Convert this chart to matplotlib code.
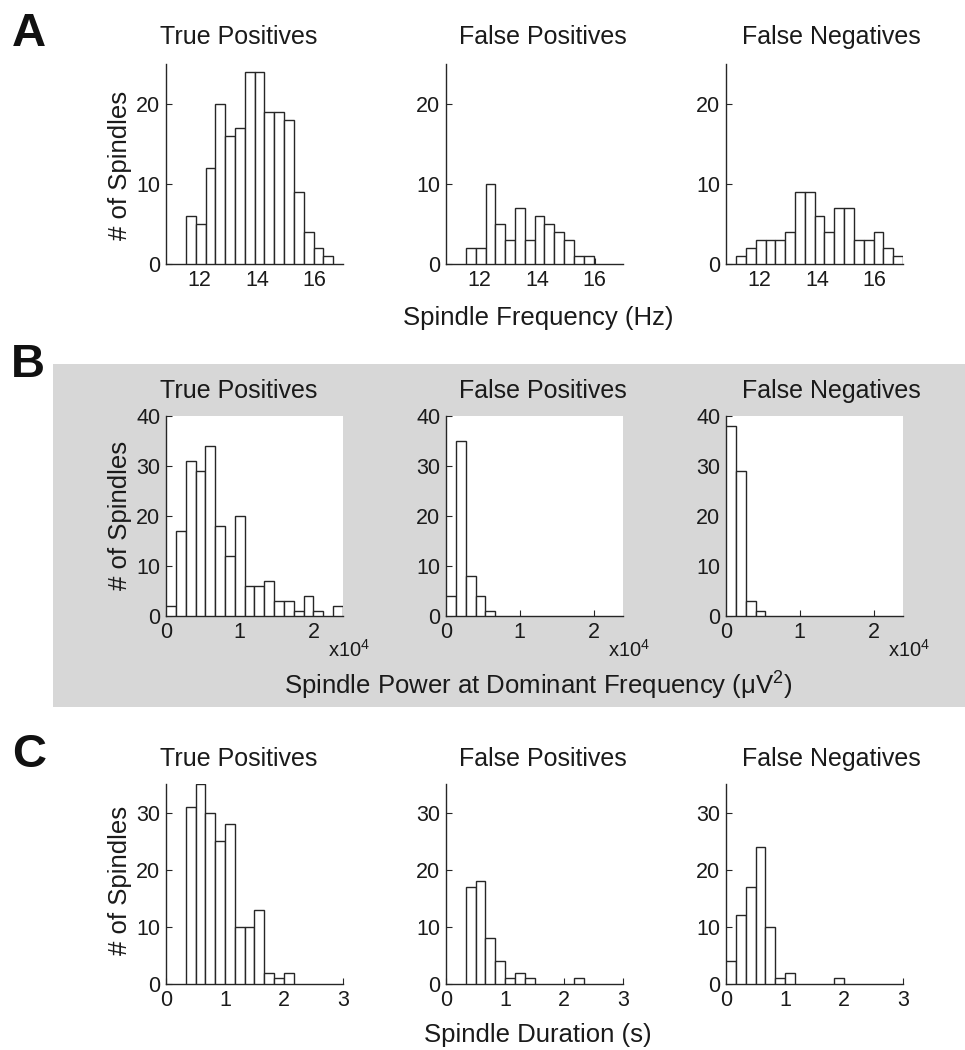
import numpy as np
import matplotlib
matplotlib.use("Agg")
import matplotlib.pyplot as plt
from matplotlib.patches import Rectangle

plt.rcParams['font.family'] = ['Liberation Sans', 'DejaVu Sans']

# ---------------- data ----------------
groups = ["True Positives", "False Positives", "False Negatives"]

# Panel A: spindle frequency (Hz), bins of 0.34 Hz starting at 11.2 Hz
freq_bin_start = 11.2
freq_bin_width = 0.34
freq_tp = [0, 6, 5, 12, 20, 16, 17, 24, 24, 19, 19, 18, 9, 4, 2, 1, 0]
freq_fp = [0, 2, 2, 10, 5, 3, 7, 3, 6, 5, 4, 3, 1, 1, 0, 0, 0]
freq_fn = [1, 2, 3, 3, 3, 4, 9, 9, 6, 4, 7, 7, 3, 3, 4, 2, 1]

# Panel B: spindle power (uV^2), 18 bins over 0..24000
pow_bin_start = 0.0
pow_bin_width = 24000 / 18
pow_tp = [2, 17, 31, 29, 34, 18, 12, 20, 6, 6, 7, 3, 3, 1, 4, 1, 0, 2]
pow_fp = [4, 35, 8, 4, 1, 0, 0, 0, 0, 0, 0, 0, 0, 0, 0, 0, 0, 0]
pow_fn = [38, 29, 3, 1, 0, 0, 0, 0, 0, 0, 0, 0, 0, 0, 0, 0, 0, 0]

# Panel C: spindle duration (s), bins of 1/6 s from 0
dur_bin_start = 0.0
dur_bin_width = 1 / 6
dur_tp = [0, 0, 31, 35, 30, 25, 28, 10, 10, 13, 2, 1, 2, 0, 0, 0, 0, 0]
dur_fp = [0, 0, 17, 18, 8, 4, 1, 2, 1, 0, 0, 0, 0, 1, 0, 0, 0, 0]
dur_fn = [4, 12, 17, 24, 10, 1, 2, 0, 0, 0, 0, 1, 0, 0, 0, 0, 0, 0]

freq_xticks = [12, 14, 16]
freq_xticklabels = ["12", "14", "16"]
freq_yticks = [0, 10, 20]
pow_xticks = [0, 10000, 20000]
pow_xticklabels = ["0", "1", "2"]
pow_yticks = [0, 10, 20, 30, 40]
dur_xticks = [0, 1, 2, 3]
dur_xticklabels = ["0", "1", "2", "3"]
dur_yticks = [0, 10, 20, 30]

# ---------------- figure ----------------
W, H = 965, 1050
fig = plt.figure(figsize=(W / 100, H / 100), dpi=100)
fig.patch.set_facecolor("white")

def fx(px):
    return px / W

def fy(py):
    return 1 - py / H

# grey background of panel B
fig.add_artist(Rectangle((fx(53), fy(707)), fx(965) - fx(53), fy(364) - fy(707),
                         transform=fig.transFigure, facecolor="#d7d7d7",
                         edgecolor="none", zorder=-10))

lefts = [166, 446, 726]
axw = 177
axh = 200
row_bottoms = [264, 616, 984]
title_x = [239, 543, 831]
title_y = [37, 391, 759]

TXT = "#1a1a1a"
LINE = "#262626"
TICK_FS = 15.5
TITLE_FS = 18
LABEL_FS = 18.5

rows = [
    dict(counts=[freq_tp, freq_fp, freq_fn], start=freq_bin_start, width=freq_bin_width,
         xlim=(10.85, 16.98), ylim=(0, 25), xticks=freq_xticks, xtl=freq_xticklabels,
         yticks=freq_yticks, xlabel="Spindle Frequency (Hz)", xlabel_y=318, ylabel_y=165,
         exp=False),
    dict(counts=[pow_tp, pow_fp, pow_fn], start=pow_bin_start, width=pow_bin_width,
         xlim=(0, 24000), ylim=(0, 40), xticks=pow_xticks, xtl=pow_xticklabels,
         yticks=pow_yticks,
         xlabel="Spindle Power at Dominant Frequency (\u03bcV$^\\mathregular{2}$)",
         xlabel_y=685, ylabel_y=515, exp=True),
    dict(counts=[dur_tp, dur_fp, dur_fn], start=dur_bin_start, width=dur_bin_width,
         xlim=(0, 3), ylim=(0, 35), xticks=dur_xticks, xtl=dur_xticklabels,
         yticks=dur_yticks, xlabel="Spindle Duration (s)", xlabel_y=1035, ylabel_y=880,
         exp=False),
]

for r, row in enumerate(rows):
    for c in range(3):
        ax = fig.add_axes([fx(lefts[c]), fy(row_bottoms[r]), fx(axw), axh / H])
        counts = np.asarray(row["counts"][c], dtype=float)
        edges = row["start"] + row["width"] * np.arange(len(counts))
        mask = counts > 0
        ax.bar(edges[mask], counts[mask], width=row["width"], align="edge",
               facecolor="white", edgecolor=LINE, linewidth=1.0, zorder=3)
        ax.set_xlim(*row["xlim"])
        ax.set_ylim(*row["ylim"])
        ax.set_xticks(row["xticks"])
        ax.set_xticklabels(row["xtl"])
        ax.set_yticks(row["yticks"])
        ax.set_facecolor("white")
        for s in ["top", "right"]:
            ax.spines[s].set_visible(False)
        for s in ["left", "bottom"]:
            ax.spines[s].set_color(LINE)
            ax.spines[s].set_linewidth(1.0)
        ax.tick_params(direction="in", length=4, width=0.8, color=LINE,
                       labelsize=TICK_FS, labelcolor=TXT, pad=4)
        fig.text(fx(title_x[c]), fy(title_y[r]), groups[c], ha="center", va="center",
                 fontsize=TITLE_FS, color=TXT)
        if row["exp"]:
            fig.text(fx(lefts[c] + axw - 15), fy(650), "x10$^\\mathregular{4}$",
                     ha="left", va="center", fontsize=TICK_FS - 1, color=TXT)
    fig.text(fx(120), fy(row["ylabel_y"]), "# of Spindles", rotation=90,
             ha="center", va="center", fontsize=LABEL_FS, color=TXT)
    fig.text(fx(538), fy(row["xlabel_y"]), row["xlabel"], ha="center", va="center",
             fontsize=LABEL_FS, color=TXT)

for letter, (lx, ly) in zip("ABC", [(29, 34), (28, 365), (29, 755)]):
    fig.text(fx(lx), fy(ly), letter, ha="center", va="center", fontsize=34,
             fontweight="bold", color="#111111")

fig.savefig("out.png", dpi=100, facecolor="white")
